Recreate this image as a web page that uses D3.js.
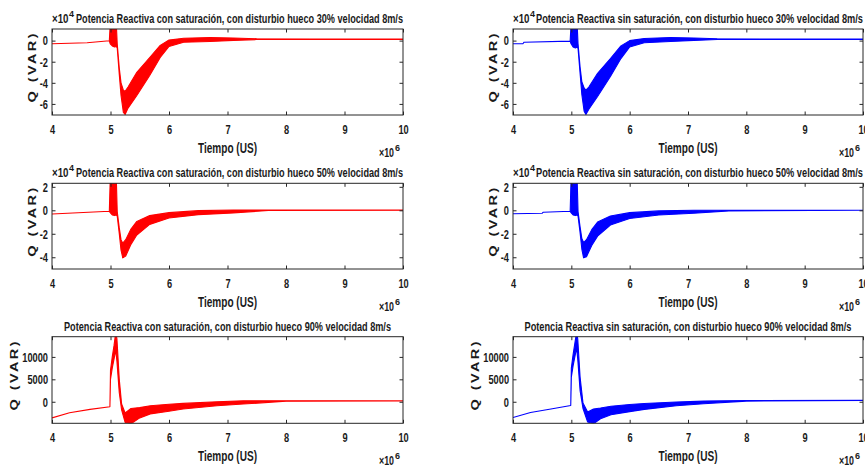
<!DOCTYPE html>
<html lang="es">
<head>
<meta charset="UTF-8">
<title>Potencia Reactiva</title>
<script src="https://d3js.org/d3.v7.min.js"></script>
<style>
    body { margin: 0; background: #fff; }
    svg { display: block; }
    text { font-family: "Liberation Sans", Arial, sans-serif; font-weight: bold; fill: #1a1a1a; }
    .axis line { stroke: #262626; }
</style>
</head>
<body>
<svg width="865" height="472"></svg>
<script>
// time axis (x 10^6 us), same for all panels
const xTicks = [4, 5, 6, 7, 8, 9, 10];

// Row 1: hueco 30% (x 10^4 VAR), envelopes of the oscillating band
const t30c  = [4.00, 4.60, 4.98, 4.995, 5.03, 5.07, 5.10, 5.115, 5.15, 5.18, 5.22, 5.25, 5.30, 5.45, 5.67, 5.85, 6.00, 6.25, 6.70, 7.10, 7.50, 8.50, 10.00];
const hi30c = [-0.30, -0.20, -0.02, 1.50, 1.50, 1.50, 1.50, -0.30, -2.60, -4.00, -4.70, -4.80, -4.40, -3.00, -1.60, -0.45, 0.05, 0.22, 0.30, 0.25, 0.18, 0.15, 0.15];
const lo30c = [-0.30, -0.20, -0.02, -0.30, -0.50, -0.60, -0.55, -0.70, -3.20, -5.20, -6.80, -7.00, -6.40, -5.20, -3.30, -1.60, -0.55, -0.15, -0.08, 0.02, 0.10, 0.12, 0.12];

const t30s  = [4.00, 4.17, 4.19, 4.98, 4.995, 5.03, 5.07, 5.10, 5.115, 5.15, 5.18, 5.22, 5.25, 5.30, 5.45, 5.67, 5.85, 6.00, 6.25, 6.70, 7.10, 7.50, 8.50, 10.00];
const hi30s = [-0.30, -0.30, -0.15, -0.05, 1.50, 1.50, 1.50, 1.50, -0.30, -2.50, -3.90, -4.50, -4.70, -4.40, -3.10, -1.70, -0.50, 0.00, 0.20, 0.30, 0.25, 0.18, 0.15, 0.15];
const lo30s = [-0.30, -0.30, -0.15, -0.05, -0.30, -0.60, -0.70, -0.60, -0.75, -3.10, -5.10, -6.70, -7.00, -6.50, -5.30, -3.40, -1.70, -0.60, -0.20, -0.08, 0.02, 0.10, 0.12, 0.12];

// Row 2: hueco 50% (x 10^4 VAR)
const t50c  = [4.00, 4.98, 4.995, 5.03, 5.07, 5.10, 5.115, 5.15, 5.18, 5.21, 5.26, 5.35, 5.45, 5.67, 6.00, 6.50, 7.10, 7.70, 10.00];
const hi50c = [-0.32, -0.08, 2.60, 2.60, 2.60, 2.60, -0.10, -1.50, -2.50, -2.80, -2.50, -1.60, -0.95, -0.45, -0.20, -0.03, 0.02, 0.02, 0.02];
const lo50c = [-0.32, -0.08, -0.20, -0.40, -0.45, -0.40, -0.50, -2.00, -3.40, -4.05, -3.90, -2.90, -2.10, -1.20, -0.65, -0.37, -0.22, -0.02, 0.00];

const t50s  = [4.00, 4.50, 4.52, 4.98, 4.995, 5.03, 5.07, 5.10, 5.115, 5.15, 5.18, 5.21, 5.26, 5.35, 5.45, 5.67, 6.00, 6.50, 7.10, 7.70, 10.00];
const hi50s = [-0.30, -0.25, -0.16, -0.08, 2.60, 2.60, 2.60, 2.60, -0.10, -1.40, -2.40, -2.75, -2.50, -1.65, -1.00, -0.48, -0.20, -0.05, 0.00, 0.00, 0.00];
const lo50s = [-0.30, -0.25, -0.16, -0.08, -0.20, -0.40, -0.45, -0.40, -0.50, -1.90, -3.30, -4.05, -3.95, -3.00, -2.20, -1.25, -0.70, -0.40, -0.25, -0.05, 0.00];

// Row 3: hueco 90% (VAR)
const t90c  = [4.00, 4.30, 4.65, 4.99, 5.00, 5.03, 5.06, 5.09, 5.11, 5.15, 5.19, 5.25, 5.35, 5.50, 5.68, 6.00, 6.24, 6.82, 7.27, 8.00, 10.00];
const hi90c = [-3600, -2450, -1700, -1100, 7000, 10000, 12500, 15500, 14000, 5000, -500, -2500, -1500, -1300, -900, -550, -370, 0, 200, 200, 200];
const lo90c = [-3600, -2450, -1700, -1100, 5000, 7500, 9500, 11500, 9000, 2000, -1800, -4600, -4900, -3600, -2700, -2100, -1600, -880, -500, 100, 200];

const t90s  = [4.00, 4.30, 4.65, 4.99, 5.00, 5.03, 5.06, 5.09, 5.11, 5.15, 5.20, 5.28, 5.38, 5.50, 5.68, 6.00, 6.25, 6.80, 7.27, 8.00, 10.00];
const hi90s = [-3500, -2400, -1600, -850, 7500, 10500, 13000, 15500, 14000, 5500, -300, -2300, -1600, -1400, -1000, -600, -400, -50, 150, 280, 300];
const lo90s = [-3500, -2400, -1600, -850, 5500, 8000, 10000, 12000, 9500, 2500, -1500, -4500, -4900, -3800, -2900, -2200, -1700, -900, -450, 150, 300];

// y axis ticks per row
const yTicks30 = [-6, -4, -2, 0];
const yTicks50 = [-4, -2, 0, 2];
const yTicks90 = [0, 5000, 10000];

const titles = [
    "Potencia Reactiva con saturación, con disturbio hueco 30% velocidad 8m/s",
    "Potencia Reactiva sin saturación, con disturbio hueco 30% velocidad 8m/s",
    "Potencia Reactiva con saturación, con disturbio hueco 50% velocidad 8m/s",
    "Potencia Reactiva sin saturación, con disturbio hueco 50% velocidad 8m/s",
    "Potencia Reactiva con saturación, con disturbio hueco 90% velocidad 8m/s",
    "Potencia Reactiva sin saturación, con disturbio hueco 90% velocidad 8m/s"
];

// layout
const colX = [[52, 403], [513, 863]];
const rowY = [[29, 115], [183.3, 269], [336.7, 423.3]];
const yDomains = [[-7.05, 1.1], [-5.0, 2.3], [-4800, 14500]];
const rowTicks = [yTicks30, yTicks50, yTicks90];
const rowExp = [true, true, false];
const qLabelOffset = [20, 20, 38]; // distance of the y label centre left of the axis
const squeeze = 0.77; // horizontal text compression of the original figure

const panels = [
    { t: t30c, hi: hi30c, lo: lo30c, col: 0, row: 0, color: "#ff0000" },
    { t: t30s, hi: hi30s, lo: lo30s, col: 1, row: 0, color: "#0000ff" },
    { t: t50c, hi: hi50c, lo: lo50c, col: 0, row: 1, color: "#ff0000" },
    { t: t50s, hi: hi50s, lo: lo50s, col: 1, row: 1, color: "#0000ff" },
    { t: t90c, hi: hi90c, lo: lo90c, col: 0, row: 2, color: "#ff0000" },
    { t: t90s, hi: hi90s, lo: lo90s, col: 1, row: 2, color: "#0000ff" }
];

const svg = d3.select("svg");

panels.forEach((p, i) => {
    const [x0, x1] = colX[p.col];
    const [y0, y1] = rowY[p.row];
    const x = d3.scaleLinear().domain([4, 10]).range([x0, x1]);
    const y = d3.scaleLinear().domain(yDomains[p.row]).range([y1, y0]);
    const pts = p.t.map((t, k) => ({ t: t, hi: p.hi[k], lo: p.lo[k] }));

    svg.append("clipPath").attr("id", "clip" + i)
        .append("rect")
        .attr("x", x0).attr("y", y0)
        .attr("width", x1 - x0).attr("height", y1 - y0);

    const area = d3.area()
        .x(d => x(d.t))
        .y0(d => y(d.lo))
        .y1(d => y(d.hi));

    svg.append("path")
        .datum(pts)
        .attr("clip-path", `url(#clip${i})`)
        .attr("d", area)
        .attr("fill", p.color)
        .attr("stroke", p.color)
        .attr("stroke-width", 1.1)
        .attr("stroke-linejoin", "round");

    // axes, ticks pointing inward like MATLAB
    const tick = 3.5;
    const gx = svg.append("g").attr("class", "axis")
        .attr("transform", `translate(0,${y1})`)
        .call(d3.axisBottom(x).tickValues(xTicks).tickSize(-tick).tickFormat(d => String(d)));
    gx.selectAll("text")
        .attr("y", 0).attr("dy", 19)
        .attr("font-size", 12)
        .attr("transform", `scale(${squeeze},1)`);

    svg.append("g").attr("class", "axis")
        .attr("transform", `translate(0,${y0})`)
        .call(d3.axisTop(x).tickValues(xTicks).tickSize(-tick).tickFormat(""));

    const gy = svg.append("g").attr("class", "axis")
        .attr("transform", `translate(${x0},0)`)
        .call(d3.axisLeft(y).tickValues(rowTicks[p.row]).tickSize(-tick).tickFormat(d => String(d)));
    gy.selectAll("text")
        .attr("x", -4 / squeeze).attr("dy", "0.36em")
        .attr("font-size", 12)
        .attr("transform", `scale(${squeeze},1)`);

    svg.append("g").attr("class", "axis")
        .attr("transform", `translate(${x1},0)`)
        .call(d3.axisRight(y).tickValues(rowTicks[p.row]).tickSize(-tick).tickFormat(""));

    svg.selectAll(".axis path.domain").remove();
    svg.selectAll(".axis text").attr("fill", "#1a1a1a");

    svg.append("rect")
        .attr("x", x0).attr("y", y0)
        .attr("width", x1 - x0).attr("height", y1 - y0)
        .attr("fill", "none")
        .attr("stroke", "#262626")
        .attr("stroke-width", 1);

    // title
    if (rowExp[p.row]) {
        svg.append("text")
            .attr("x", x0).attr("y", y0 - 6)
            .attr("font-size", 12.5).attr("font-weight", "normal")
            .attr("textLength", 16.5).attr("lengthAdjust", "spacingAndGlyphs")
            .text("×10");
        svg.append("text")
            .attr("x", x0 + 17).attr("y", y0 - 12)
            .attr("font-size", 9).attr("font-weight", "normal")
            .text("4");
        svg.append("text")
            .attr("x", x1).attr("y", y0 - 6)
            .attr("text-anchor", "end")
            .attr("font-size", 13.5)
            .attr("textLength", 327).attr("lengthAdjust", "spacingAndGlyphs")
            .text(titles[i]);
    } else {
        svg.append("text")
            .attr("x", (x0 + x1) / 2).attr("y", y0 - 6)
            .attr("text-anchor", "middle")
            .attr("font-size", 13.5)
            .attr("textLength", 327).attr("lengthAdjust", "spacingAndGlyphs")
            .text(titles[i]);
    }

    // x label and exponent
    svg.append("text")
        .attr("x", (x0 + x1) / 2).attr("y", y1 + 37.5)
        .attr("text-anchor", "middle")
        .attr("font-size", 14.5)
        .attr("textLength", 59).attr("lengthAdjust", "spacingAndGlyphs")
        .text("Tiempo (US)");
    svg.append("text")
        .attr("x", x1 - 24).attr("y", y1 + 41.5)
        .attr("font-size", 12.5).attr("font-weight", "normal")
        .attr("textLength", 15).attr("lengthAdjust", "spacingAndGlyphs")
        .text("×10");
    svg.append("text")
        .attr("x", x1 - 8).attr("y", y1 + 36)
        .attr("font-size", 9).attr("font-weight", "normal")
        .text("6");

    // y label
    svg.append("text")
        .attr("transform", `translate(${x0 - qLabelOffset[p.row] + 4},${(y0 + y1) / 2 - 4}) scale(${squeeze},1) rotate(-90)`)
        .attr("text-anchor", "middle")
        .attr("font-size", 14.5)
        .attr("textLength", 69).attr("lengthAdjust", "spacing")
        .text("Q (VAR)");
});
</script>
</body>
</html>
